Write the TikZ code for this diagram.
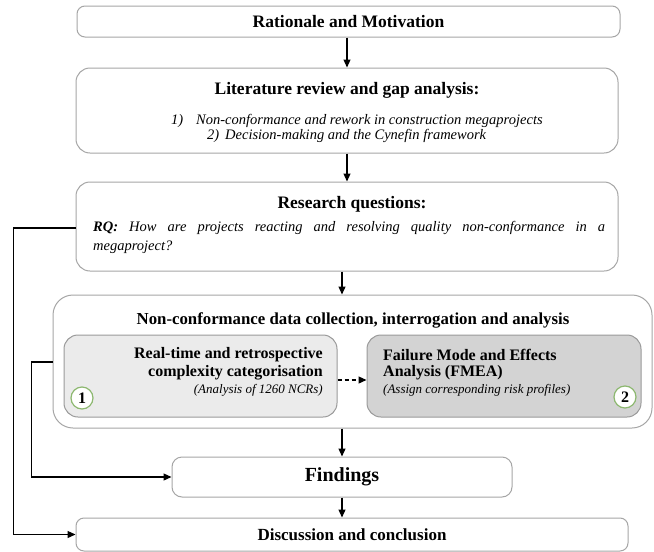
\documentclass[tikz,border=0pt]{standalone}
\usepackage{fontspec}
\setmainfont{Liberation Serif}
\usetikzlibrary{arrows.meta}
\definecolor{bordergray}{HTML}{A6A6A6}
\definecolor{innerborder}{HTML}{9A9A9A}
\definecolor{fillone}{HTML}{EBEBEB}
\definecolor{filltwo}{HTML}{D3D3D3}
\definecolor{circgreen}{HTML}{8DB870}
\begin{document}
\begin{tikzpicture}[x=1pt,y=-1pt,
  box/.style={draw=bordergray, line width=1pt, fill=white, rounded corners=14pt, inner sep=0pt},
  ibox/.style={draw=innerborder, line width=1pt, rounded corners=14pt, inner sep=0pt},
  arr/.style={line width=1.2pt, -{Triangle[length=8pt,width=7pt]}},
  ttl/.style={inner sep=0pt, font=\fontsize{17.5}{20}\selectfont\bfseries},
  itl/.style={inner sep=0pt, font=\fontsize{14.5}{17}\selectfont\itshape},
  ibt/.style={inner sep=0pt, font=\fontsize{16}{19}\selectfont\bfseries},
  ibi/.style={inner sep=0pt, font=\fontsize{13}{15}\selectfont\itshape},
  num/.style={circle, draw=circgreen, line width=1.2pt, fill=white, minimum size=22pt, inner sep=0pt, font=\fontsize{16}{16}\selectfont\bfseries},
]
\useasboundingbox (0,0) rectangle (654,552);
\fill[white] (0,0) rectangle (654,552);

% boxes
\node[box, rounded corners=8pt, minimum width=543pt, minimum height=31pt, font=\fontsize{17.5}{20}\selectfont\bfseries] (rat) at (348.5,21.5) {Rationale and Motivation};
\node[box, minimum width=542pt, minimum height=85pt] (lit) at (347,110.5) {};
\node[box, minimum width=542pt, minimum height=89pt] (rq) at (347,226.5) {};
\node[box, rounded corners=20pt, minimum width=599pt, minimum height=133pt] (outer) at (352.5,361.5) {};
\node[ibox, fill=fillone, minimum width=273pt, minimum height=82pt] (ib1) at (200.5,376) {};
\node[ibox, fill=filltwo, minimum width=274pt, minimum height=82pt] (ib2) at (504,376) {};
\node[box, rounded corners=10pt, minimum width=340pt, minimum height=40pt, font=\fontsize{20}{24}\selectfont\bfseries] (find) at (342,477) {Findings};
\node[box, rounded corners=8pt, minimum width=552pt, minimum height=33pt, font=\fontsize{17}{20}\selectfont\bfseries] (disc) at (352,534.5) {Discussion and conclusion};

% texts
\node[ttl] (littitle) at (347,90) {Literature review and gap analysis:};
\node[itl, anchor=west] (ionen) at (171,121) {1)};
\node[itl, anchor=west] (ione) at (196,121) {Non-conformance and rework in construction megaprojects};
\node[itl, anchor=west] (itwon) at (207,136) {2)};
\node[itl, anchor=west] (itwo) at (225,136) {Decision-making and the Cynefin framework};

\node[ttl] (rqtitle) at (352,204) {Research questions:};
\node[itl, anchor=west] (rqone) at (93,228) {\makebox[512pt][s]{\textbf{RQ:} How are projects reacting and resolving quality non-conformance in a}};
\node[itl, anchor=west] (rqtwo) at (93,247) {megaproject?};

\node[ttl, font=\fontsize{16.8}{20}\selectfont\bfseries] (outtitle) at (353,320) {Non-conformance data collection, interrogation and analysis};

\node[ibt, anchor=east] (aone) at (323,355) {Real-time and retrospective};
\node[ibt, anchor=east] (atwo) at (323,373) {complexity categorisation};
\node[ibi, anchor=east] (athree) at (323,390) {(Analysis of 1260 NCRs)};

\node[ibt, anchor=west] (bone) at (383,355) {Failure Mode and Effects};
\node[ibt, anchor=west] (btwo) at (383,373) {Analysis (FMEA)};
\node[ibi, anchor=west] (bthree) at (383,390) {(Assign corresponding risk profiles)};

\node[num] (cone) at (82,398) {1};
\node[num] (ctwo) at (625,397) {2};

% connectors
\draw[arr] (rat.south -| lit.north) -- (lit.north);
\draw[arr] (lit.south) -- (rq.north);
\draw[arr] (rq.south -| find.north) -- (outer.north -| find.north);
\draw[arr] (outer.south -| find.north) -- (find.north);
\draw[arr] (find.south) -- (disc.north -| find.south);
\draw[arr, dashed, dash pattern=on 4pt off 3pt] ([yshift=-4pt]ib1.east) -- ([yshift=-4pt]ib2.west);
\draw[arr] ([yshift=-1.5pt]rq.west) -- ++(-62,0) |- (disc.west);
\draw[arr] ([yshift=-0.5pt]outer.west) -- ++(-21,0) |- (find.west);
\end{tikzpicture}
\end{document}
